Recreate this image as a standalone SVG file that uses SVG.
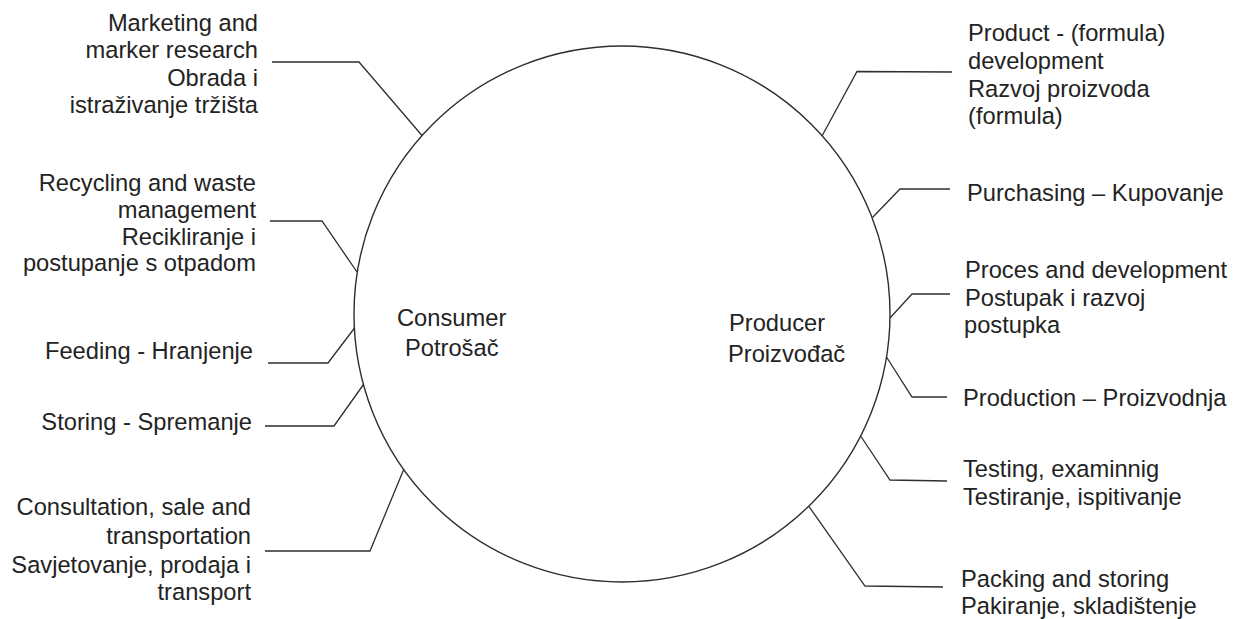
<svg xmlns="http://www.w3.org/2000/svg" width="1235" height="619" viewBox="0 0 1235 619">
  <style>
    .lbl { font-family: "Liberation Sans", Arial, sans-serif; font-size: 23.7px; fill: #232323; }
    .l { text-anchor: end; }
    .r { text-anchor: start; }
    .c { text-anchor: start; }
    .ring { fill: none; stroke: #2e2e2e; stroke-width: 1.4; }
    .wire { fill: none; stroke: #2e2e2e; stroke-width: 1.3; stroke-linejoin: miter; }
  </style>
  <rect width="1235" height="619" fill="#ffffff"/>

  <!-- central cycle -->
  <g id="cycle">
    <circle class="ring" cx="622" cy="314" r="268"/>
    <text class="lbl c" x="397" y="326">Consumer</text>
    <text class="lbl c" x="405" y="356">Potrošač</text>
    <text class="lbl c" x="729" y="331">Producer</text>
    <text class="lbl c" x="728" y="362">Proizvođač</text>
  </g>

  <!-- consumer side stages -->
  <g id="marketing">
    <text class="lbl l" x="258" y="30.5">Marketing and</text>
    <text class="lbl l" x="258" y="58">marker research</text>
    <text class="lbl l" x="258" y="85.5">Obrada i</text>
    <text class="lbl l" x="258" y="113">istraživanje tržišta</text>
  </g>
  <g id="recycling">
    <text class="lbl l" x="256" y="190.5">Recycling and waste</text>
    <text class="lbl l" x="256" y="217.5">management</text>
    <text class="lbl l" x="256" y="244.5">Recikliranje i</text>
    <text class="lbl l" x="256" y="271">postupanje s otpadom</text>
  </g>
  <g id="feeding">
    <text class="lbl l" x="253" y="358.5">Feeding - Hranjenje</text>
  </g>
  <g id="storing">
    <text class="lbl l" x="252" y="430">Storing - Spremanje</text>
  </g>
  <g id="consultation">
    <text class="lbl l" x="251" y="515">Consultation, sale and</text>
    <text class="lbl l" x="251" y="544">transportation</text>
    <text class="lbl l" x="251" y="572.5">Savjetovanje, prodaja i</text>
    <text class="lbl l" x="251" y="599.5">transport</text>
  </g>

  <!-- producer side stages -->
  <g id="product-development">
    <text class="lbl r" x="968" y="41">Product - (formula)</text>
    <text class="lbl r" x="968" y="69">development</text>
    <text class="lbl r" x="968" y="96.5">Razvoj proizvoda</text>
    <text class="lbl r" x="968" y="124">(formula)</text>
  </g>
  <g id="purchasing">
    <text class="lbl r" x="967" y="200.5">Purchasing – Kupovanje</text>
  </g>
  <g id="process-development">
    <text class="lbl r" x="965" y="278">Proces and development</text>
    <text class="lbl r" x="965" y="305.5">Postupak i razvoj</text>
    <text class="lbl r" x="964" y="333">postupka</text>
  </g>
  <g id="production">
    <text class="lbl r" x="963" y="406">Production – Proizvodnja</text>
  </g>
  <g id="testing">
    <text class="lbl r" x="963" y="477">Testing, examinnig</text>
    <text class="lbl r" x="963" y="505">Testiranje, ispitivanje</text>
  </g>
  <g id="packing">
    <text class="lbl r" x="961" y="587">Packing and storing</text>
    <text class="lbl r" x="961" y="613.5">Pakiranje, skladištenje</text>
  </g>

  <!-- leader lines from labels to the circle -->
  <g id="connectors">
    <polyline class="wire" points="272,62 359,62 422,135.5"/>
    <polyline class="wire" points="270,221 322,221 357,272"/>
    <polyline class="wire" points="268,363 328,363 354.5,328"/>
    <polyline class="wire" points="265,426 334,426 363.5,384.5"/>
    <polyline class="wire" points="265,551 370,551 403.5,470"/>

    <polyline class="wire" points="952,72 857,71.5 822,136"/>
    <polyline class="wire" points="950,189 900,189 872.5,217.5"/>
    <polyline class="wire" points="950,294 912,294 890,318"/>
    <polyline class="wire" points="886.5,357 912,397 947,397"/>
    <polyline class="wire" points="861,436.5 890,480 947,481"/>
    <polyline class="wire" points="809,506.5 865,586 943,587"/>
  </g>
</svg>
